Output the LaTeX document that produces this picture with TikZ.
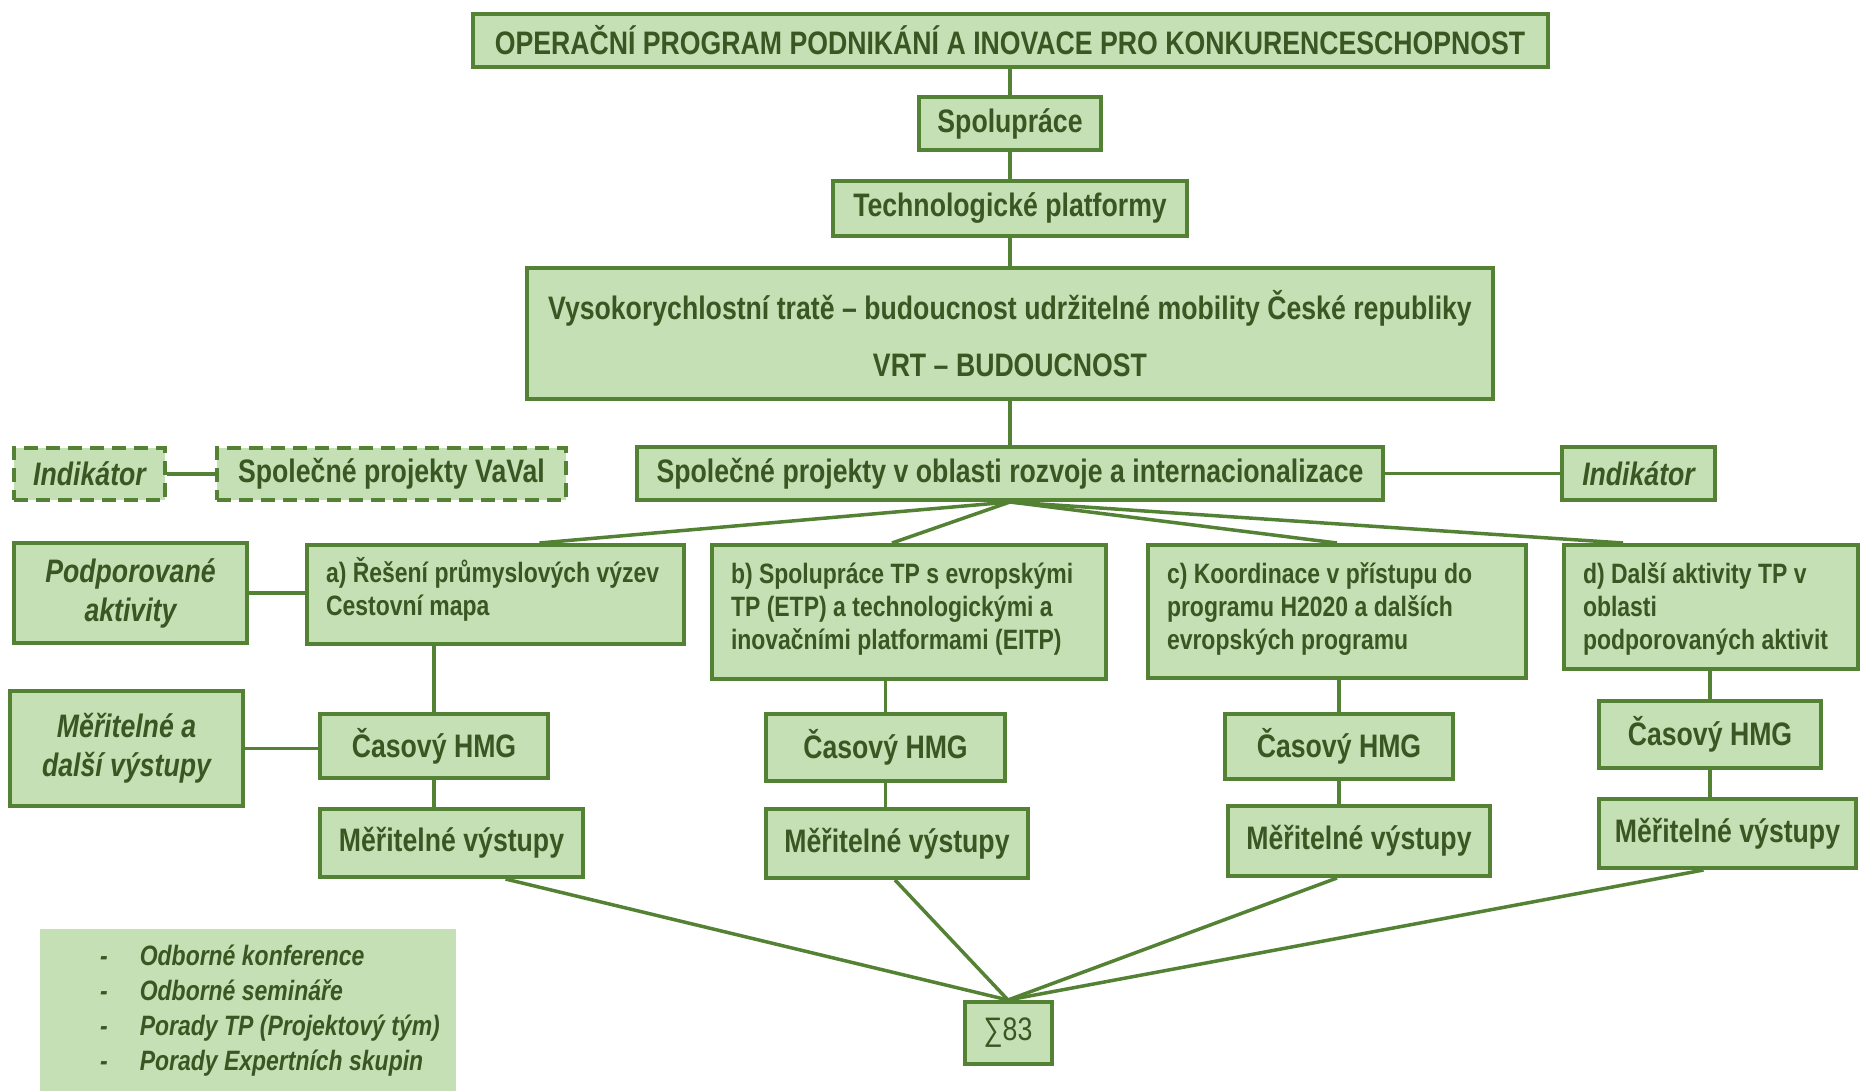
\documentclass[tikz,border=0pt]{standalone}
\usepackage{fontspec}
\setmainfont{Liberation Sans}[FakeStretch=0.82, WordSpace=0.8]
\definecolor{grnline}{RGB}{84,130,53}
\definecolor{grnfill}{RGB}{197,224,180}
\definecolor{grntext}{RGB}{56,87,35}
\newcommand{\bigtxt}{\fontsize{32.5}{39}\selectfont\bfseries\spaceskip=0.23em\relax}
\newcommand{\smalltxt}{\fontsize{28}{33}\selectfont\bfseries\spaceskip=0.23em\relax}
\newcommand{\legtxt}{\fontsize{28}{35}\selectfont\bfseries\itshape\spaceskip=0.23em\relax}
\newcommand{\legitem}{\hspace*{60pt}-\hspace{32pt}}
\tikzset{
    pbox/.style={draw=grnline, fill=grnfill, line width=4pt, text=grntext, inner sep=0pt, font=\bigtxt},
    dbox/.style={pbox, dash pattern=on 14pt off 8pt},
    abox/.style={pbox, font=\smalltxt, align=flush left, anchor=north west, inner xsep=19pt, inner ysep=0pt},
    link/.style={draw=grnline, line width=3.5pt}
}
\begin{document}
\begin{tikzpicture}[x=1pt,y=-1pt]
    \useasboundingbox (0,0) rectangle (1862,1091);

    \node[pbox, minimum width=1075pt, minimum height=53pt] (top) at (1010,40.5) {OPERAČNÍ PROGRAM PODNIKÁNÍ A INOVACE PRO KONKURENCESCHOPNOST};
    \node[pbox, minimum width=182pt, minimum height=53pt] (spol) at (1010,123.5) {Spolupráce};
    \node[pbox, minimum width=354pt, minimum height=55pt] (tech) at (1010,208.5) {Technologické platformy};
    \node[pbox, align=flush center, minimum width=966pt, minimum height=131pt] (vrt) at (1010,333.5) {Vysokorychlostní tratě – budoucnost udržitelné mobility České republiky\\[18pt]VRT – BUDOUCNOST};
    \node[pbox, minimum width=746pt, minimum height=53pt] (proj) at (1010,473.5) {Společné projekty v oblasti rozvoje a internacionalizace};
    \node[pbox, minimum width=153pt, minimum height=53pt, font=\bigtxt\itshape] (indR) at (1638.5,473.5) {Indikátor};
    \node[dbox, minimum width=151pt, minimum height=52pt, font=\bigtxt\itshape] (indL) at (89.5,474) {Indikátor};
    \node[dbox, minimum width=349pt, minimum height=52pt] (vaval) at (391.5,474) {Společné projekty VaVal};

    % podporovane aktivity
    \node[pbox, align=flush center, minimum width=233pt, minimum height=100pt, font=\bigtxt\itshape] (podp) at (130.5,593) {Podporované\\aktivity};
    \node[abox, text width=339pt, text height=37pt, text depth=62pt] (a) at (305,543) {a) Řešení průmyslových výzev\\Cestovní mapa};
    \node[abox, text width=356pt, text height=38pt, text depth=96pt] (b) at (710,543) {b) Spolupráce TP s evropskými\\TP (ETP) a technologickými a\\inovačními platformami (EITP)};
    \node[abox, text width=340pt, text height=38pt, text depth=95pt] (c) at (1146,543) {c) Koordinace v přístupu do\\programu H2020 a dalších\\evropských programu};
    \node[abox, text width=256pt, text height=38pt, text depth=86pt] (d) at (1562,543) {d) Další aktivity TP v\\oblasti\\podporovaných aktivit};

    % vystupy
    \node[pbox, align=flush center, minimum width=233pt, minimum height=115pt, font=\bigtxt\itshape] (mer) at (126.5,748.5) {Měřitelné a\\další výstupy};
    \node[pbox, minimum width=228pt, minimum height=64pt] (hmga) at (434,746) {Časový HMG};
    \node[pbox, minimum width=263pt, minimum height=68pt] (mva) at (451.5,843) {Měřitelné výstupy};
    \node[pbox, minimum width=239pt, minimum height=67pt] (hmgb) at (885.5,747.5) {Časový HMG};
    \node[pbox, minimum width=262pt, minimum height=69pt] (mvb) at (897,843.5) {Měřitelné výstupy};
    \node[pbox, minimum width=228pt, minimum height=65pt] (hmgc) at (1339,746.5) {Časový HMG};
    \node[pbox, minimum width=262pt, minimum height=70pt] (mvc) at (1359,841) {Měřitelné výstupy};
    \node[pbox, minimum width=222pt, minimum height=67pt] (hmgd) at (1710,734.5) {Časový HMG};
    \node[pbox, minimum width=257pt, minimum height=69pt] (mvd) at (1727.5,833.5) {Měřitelné výstupy};
    \node[pbox, minimum width=87pt, minimum height=62pt, font=\bigtxt\mdseries] (sum) at (1008,1033) {∑83};

    \node[fill=grnfill, text=grntext, anchor=north west, inner sep=0pt, text width=416pt, minimum height=162pt,
          align=flush left, font=\legtxt] (leg) at (40,929)
        {\legitem Odborné konference\\
         \legitem Odborné semináře\\
         \legitem Porady TP (Projektový tým)\\
         \legitem Porady Expertních skupin};

    % spojnice
    \draw[link] (top.south) -- (spol.north);
    \draw[link] (spol.south) -- (tech.north);
    \draw[link] (tech.south) -- (vrt.north);
    \draw[link] (vrt.south) -- (proj.north);
    \draw[link] (proj.east) -- (indR.west);
    \draw[link] (indL.east) -- (vaval.west);
    \draw[link] (podp.east) -- (podp.east -| a.west);
    \draw[link] (mer.east) -- (mer.east -| hmga.west);
    \foreach \child/\dx in {a/44,b/-17,c/0,d/-88}
        \draw[link] (proj.south) -- ([xshift=\dx pt]\child.north);
    \foreach \child/\hmg/\mv in {a/hmga/mva,b/hmgb/mvb,c/hmgc/mvc,d/hmgd/mvd}{
        \draw[link] (\hmg.north |- \child.south) -- (\hmg.north);
        \draw[link] (\hmg.south) -- (\hmg.south |- \mv.north);
    }
    \foreach \mv/\dx in {mva/54,mvb/-2,mvc/-22,mvd/-24}
        \draw[link] ([xshift=\dx pt]\mv.south) -- (sum.north);
\end{tikzpicture}
\end{document}
